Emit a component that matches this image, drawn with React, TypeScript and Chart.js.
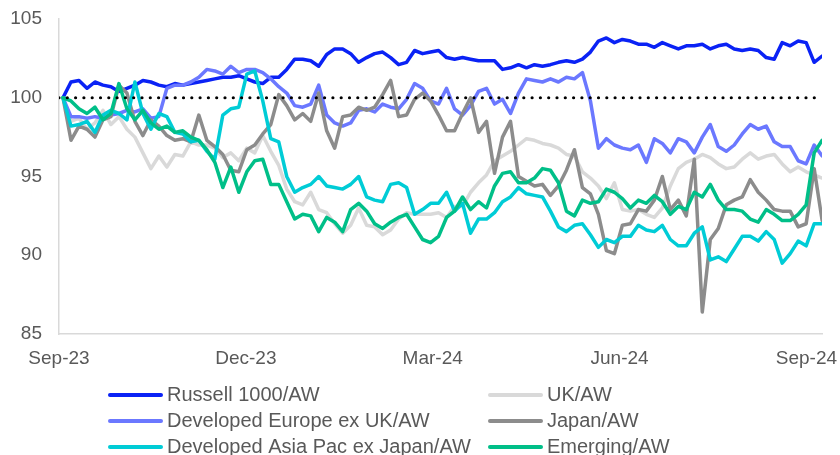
import React, { useEffect, useRef } from "react";
import { Chart, registerables } from "chart.js";

Chart.register(...registerables);

// Sampling grid: months since Sep-23 (roughly weekly observations)
const X_START = 0.064;
const X_STEP = 0.1283;
const X_MAX = 12.25;

const TICK_MONTHS = [0, 3, 6, 9, 12];
const TICK_LABELS = ["Sep-23", "Dec-23", "Mar-24", "Jun-24", "Sep-24"];
const Y_MIN = 85;
const Y_MAX = 105;
const Y_STEP = 5;
const REFERENCE_LEVEL = [100, 100];

const SERIES_NAMES = [
  "Russell 1000/AW",
  "UK/AW",
  "Developed Europe ex UK/AW",
  "Japan/AW",
  "Developed Asia Pac ex Japan/AW",
  "Emerging/AW",
];
const SERIES_COLORS = ["#0A22F5", "#D9D9D9", "#6B78FF", "#8C8C8C", "#00CCD6", "#00BF88"];

const RUSSELL = [
  100.0, 101.0, 101.1, 100.6, 101.0, 100.8, 100.7, 100.4, 100.6, 100.8,
  101.1, 101.0, 100.8, 100.7, 100.9, 100.8, 100.9, 101.0, 101.1, 101.2,
  101.3, 101.3, 101.4, 101.2, 101.0, 100.9, 101.3, 101.3, 101.8, 102.45,
  102.45, 102.35, 102.0, 102.75, 103.1, 103.1, 102.8, 102.25, 102.55, 102.8,
  102.9, 102.55, 102.1, 102.25, 103.0, 102.8, 102.9, 103.0, 102.55, 102.45,
  102.55, 102.45, 102.35, 102.35, 102.35, 101.8, 101.9, 102.1, 101.9, 102.1,
  102.0, 102.1, 102.25, 102.35, 102.25, 102.45, 102.9, 103.6, 103.8, 103.5,
  103.7, 103.6, 103.4, 103.4, 103.2, 103.5, 103.3, 103.1, 103.3, 103.3,
  103.4, 103.1, 103.3, 103.4, 103.1, 103.0, 103.1, 103.0, 102.55, 102.45,
  103.5, 103.3, 103.6, 103.5, 102.25, 102.65,
];

const UK = [
  100.0, 98.5, 98.7, 98.0, 98.4, 99.2, 98.3, 98.8, 98.0, 97.5,
  96.5, 95.5, 96.3, 95.6, 96.4, 96.3, 97.2, 97.0, 97.0, 96.8,
  96.2, 96.5, 96.0, 96.8, 96.5, 97.6, 96.6, 95.7, 94.2, 93.4,
  93.2, 94.0, 92.9, 92.7, 92.0, 91.4, 91.9, 93.0, 91.9, 91.8,
  91.3, 91.6, 92.3, 92.7, 92.6, 92.6, 92.6, 92.7, 92.4, 93.1,
  93.1, 94.0, 94.6, 95.1, 96.0, 96.3, 96.6, 97.0, 97.4, 97.3,
  97.1, 97.0, 96.8, 96.4, 96.3, 95.3, 94.9, 94.4, 93.6, 94.6,
  92.9, 92.8, 92.9, 92.6, 92.4, 93.0, 94.4, 95.5, 95.9, 96.1,
  96.4, 96.2, 95.8, 95.5, 95.6, 96.1, 96.5, 96.1, 96.3, 96.4,
  95.8, 95.3, 95.6, 95.3, 95.1, 94.9,
];

const EUROPE = [
  100.0, 98.8, 98.8, 98.7, 98.8, 98.7, 98.9, 99.0, 99.2, 99.1,
  99.3, 98.7, 98.8, 100.6, 100.8, 100.8, 101.0, 101.3, 101.8, 101.7,
  101.5, 102.0, 101.6, 101.8, 101.8, 101.6, 101.2, 100.7, 100.3, 99.5,
  99.4, 99.6, 100.8, 98.9, 98.4, 98.2, 98.4, 99.2, 99.3, 99.1,
  99.6, 99.4, 99.3, 99.9, 100.9, 100.6, 99.8, 99.6, 100.6, 99.3,
  98.9, 99.5, 100.4, 100.6, 99.6, 99.9, 99.0, 100.3, 101.2, 101.1,
  101.0, 101.2, 101.0, 101.3, 101.2, 101.6, 99.8, 96.8, 97.4, 97.0,
  96.8, 96.7, 97.0, 95.9, 97.4, 97.1, 96.5, 97.4, 97.2, 96.5,
  97.5, 98.3, 96.9, 96.6, 97.0, 97.7, 98.3, 98.0, 98.2, 97.2,
  96.9, 96.9, 96.0, 95.8, 97.0, 96.3,
];

const JAPAN = [
  100.0, 97.3, 98.2, 98.0, 97.5, 98.6, 98.8, 100.8, 100.3, 98.5,
  97.6, 98.6, 98.2, 97.6, 97.3, 97.4, 97.2, 98.9, 97.3, 96.9,
  96.4, 95.4, 95.3, 96.7, 97.0, 97.7, 98.3, 100.2, 99.5, 98.6,
  99.0, 98.5, 100.3, 97.9, 96.8, 98.8, 98.9, 99.4, 99.2, 99.4,
  100.2, 101.1, 98.8, 98.9, 99.9, 100.3, 99.8, 98.9, 97.9, 97.9,
  99.0, 100.0, 97.8, 98.5, 95.2, 97.5, 98.5, 95.0, 94.7, 94.4,
  94.5, 93.8, 94.4, 95.4, 96.7, 94.3, 93.9, 92.6, 90.3, 90.1,
  91.9, 92.0, 92.9, 92.8, 93.5, 95.0, 92.9, 93.5, 92.5, 96.1,
  86.4, 91.0, 91.7, 93.2, 93.5, 93.7, 94.8, 94.0, 93.5, 92.9,
  92.8, 92.8, 91.8, 92.0, 95.5, 92.2,
];

const ASIA_PAC = [
  100.0, 98.2, 98.3, 98.5, 97.8, 98.9, 99.2, 99.0, 98.6, 101.0,
  99.0, 98.0, 99.0, 98.8, 97.8, 97.7, 97.2, 97.3, 96.6, 96.1,
  98.9, 99.3, 99.4, 101.5, 101.7, 99.8, 97.4, 97.2, 95.0, 94.0,
  94.3, 94.5, 95.0, 94.4, 94.3, 94.2, 94.5, 95.0, 93.7, 93.5,
  93.4, 94.5, 94.6, 94.3, 92.6, 92.9, 93.3, 93.3, 94.0, 92.8,
  93.3, 91.4, 92.3, 92.3, 92.7, 93.4, 93.7, 94.3, 93.9, 93.8,
  93.7, 92.8, 91.8, 91.5, 91.9, 92.0, 91.3, 90.5, 91.0, 90.8,
  91.2, 91.2, 91.9, 91.6, 91.5, 91.9, 91.0, 90.6, 90.6, 91.4,
  91.8, 89.7, 89.9, 89.6, 90.4, 91.2, 91.2, 90.9, 91.5, 91.0,
  89.5, 90.1, 90.9, 90.6, 92.0, 92.0,
];

const EMERGING = [
  100.0, 99.8, 99.3, 99.0, 99.4, 98.6, 99.0, 100.9, 99.3, 98.6,
  99.2, 98.4, 98.0, 98.2, 97.8, 97.9, 97.5, 97.3, 96.7, 95.9,
  94.3, 95.6, 94.0, 95.3, 96.0, 96.1, 94.5, 94.5, 93.4, 92.3,
  92.6, 92.5, 91.5, 92.4, 92.1, 91.5, 92.9, 93.3, 92.8, 92.0,
  91.7, 92.1, 92.4, 92.6, 91.8, 91.0, 90.8, 91.2, 92.4, 92.8,
  93.7, 92.9, 93.4, 93.0, 94.4, 95.2, 95.3, 94.6, 94.6, 94.9,
  95.5, 95.4, 94.6, 92.8, 92.5, 93.5, 93.3, 93.4, 94.2, 94.0,
  93.6, 93.0, 93.5, 93.3, 93.8, 93.4, 92.6, 93.1, 92.9, 94.0,
  93.7, 94.5, 93.5, 92.9, 92.9, 92.8, 92.3, 92.1, 92.9, 92.6,
  92.2, 92.2, 92.6, 93.2, 96.5, 97.3,
];

const SERIES_VALUES = [RUSSELL, UK, EUROPE, JAPAN, ASIA_PAC, EMERGING];

const FONT_FAMILY = '"Liberation Sans", Arial, Helvetica, sans-serif';
const TEXT_COLOR = "#595959";

const toPoints = (vals: number[]) => vals.map((v, i) => ({ x: X_START + X_STEP * i, y: v }));

const legendPlugin = {
  id: "twoColumnLegend",
  afterDraw(chart: any) {
    const ctx = chart.ctx as CanvasRenderingContext2D;
    const colX = [110, 490];
    const rowY = [395, 421, 447];
    const lineLen = 51;
    ctx.save();
    ctx.font = `20px ${FONT_FAMILY}`;
    ctx.textBaseline = "middle";
    ctx.textAlign = "left";
    SERIES_NAMES.forEach((name, i) => {
      const col = i % 2;
      const row = Math.floor(i / 2);
      const x = colX[col];
      const y = rowY[row];
      ctx.strokeStyle = SERIES_COLORS[i];
      ctx.lineWidth = 4;
      ctx.lineCap = "round";
      ctx.beginPath();
      ctx.moveTo(x, y);
      ctx.lineTo(x + lineLen, y);
      ctx.stroke();
      ctx.fillStyle = TEXT_COLOR;
      ctx.fillText(name, x + lineLen + 6, y);
    });
    ctx.restore();
  },
};

export default function App() {
  const canvasRef = useRef<HTMLCanvasElement | null>(null);

  useEffect(() => {
    if (!canvasRef.current) return;
    const datasets: any[] = SERIES_VALUES.map((vals, i) => ({
      label: SERIES_NAMES[i],
      data: toPoints(vals),
      borderColor: SERIES_COLORS[i],
      backgroundColor: SERIES_COLORS[i],
      borderWidth: 3.5,
      pointRadius: 0,
      tension: 0,
      borderJoinStyle: "round",
      borderCapStyle: "round",
      fill: false,
      order: 10 - i,
    }));
    datasets.push({
      label: "100",
      data: [
        { x: 0, y: REFERENCE_LEVEL[0] },
        { x: X_MAX, y: REFERENCE_LEVEL[1] },
      ],
      borderColor: "#000000",
      borderWidth: 3.2,
      borderDash: [0, 8.3],
      borderCapStyle: "round",
      pointRadius: 0,
      fill: false,
      order: 1,
    });

    const chart = new Chart(canvasRef.current, {
      type: "line",
      data: { datasets },
      plugins: [legendPlugin],
      options: {
        responsive: false,
        animation: false,
        devicePixelRatio: 1,
        layout: { padding: { left: 0, right: 18, top: 19, bottom: 0 } },
        plugins: {
          legend: { display: false },
          tooltip: { enabled: false },
          title: { display: false },
        },
        scales: {
          x: {
            type: "linear",
            min: 0,
            max: X_MAX,
            grid: { display: false, drawTicks: false },
            border: { display: true, color: "#D9D9D9", width: 1.5 },
            ticks: {
              padding: 13,
              color: TEXT_COLOR,
              font: { family: FONT_FAMILY, size: 19 },
              maxRotation: 0,
              autoSkip: false,
              callback: (value: any) => {
                const idx = TICK_MONTHS.indexOf(Number(value));
                return idx >= 0 ? TICK_LABELS[idx] : "";
              },
            },
            afterBuildTicks: (axis: any) => {
              axis.ticks = TICK_MONTHS.map((v) => ({ value: v }));
            },
            afterFit: (scale: any) => {
              scale.height = 121;
              scale.paddingLeft = 0;
              scale.paddingRight = 0;
            },
          },
          y: {
            type: "linear",
            min: Y_MIN,
            max: Y_MAX,
            grid: { display: false, drawTicks: false },
            border: { display: true, color: "#D9D9D9", width: 1.5 },
            ticks: {
              stepSize: Y_STEP,
              padding: 17,
              color: TEXT_COLOR,
              font: { family: FONT_FAMILY, size: 19 },
            },
            afterFit: (scale: any) => {
              scale.width = 59;
              scale.paddingTop = 0;
              scale.paddingBottom = 0;
            },
          },
        },
      },
    });
    return () => chart.destroy();
  }, []);

  return (
    <div style={{ position: "absolute", left: 0, top: 0, width: 840, height: 455, background: "#ffffff", overflow: "hidden" }}>
      <canvas ref={canvasRef} width={840} height={455} style={{ display: "block", width: 840, height: 455 }} />
    </div>
  );
}
